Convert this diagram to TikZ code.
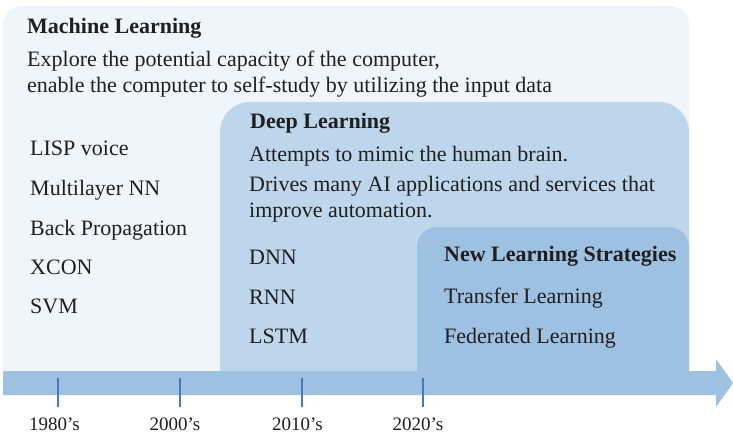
\documentclass[tikz,border=0pt]{standalone}
\usepackage{fontspec}
\setmainfont{Liberation Serif}
\begin{document}
\begin{tikzpicture}[x=1pt,y=-1pt,
  txt/.style={anchor=base west,inner sep=0pt,font=\fontsize{22}{26}\selectfont,text=black!88},
  ttl/.style={txt,font=\fontsize{22}{26}\selectfont\bfseries},
  yr/.style={anchor=base,inner sep=0pt,font=\fontsize{19}{22}\selectfont,text=black!88},
  tick/.style={draw=tickblue,line width=1.6pt}]
\definecolor{mlfill}{HTML}{F0F5FA}
\definecolor{dlfill}{HTML}{BDD6EC}
\definecolor{nlfill}{HTML}{9EC1E2}
\definecolor{tickblue}{HTML}{4678BC}
\useasboundingbox (0,0) rectangle (733,434);

% nested era panels
\fill[mlfill] (3,385) [rounded corners=18pt] -- (3,6) -- (689,6) [sharp corners] -- (689,385) -- cycle;
\fill[dlfill] (220,385) [rounded corners=30pt] -- (220,102) -- (689,102) [sharp corners] -- (689,385) -- cycle;
\fill[nlfill] (417,385) [rounded corners=20pt] -- (417,227) -- (689,227) [sharp corners] -- (689,385) -- cycle;

% time axis
\fill[nlfill] (3,371) -- (716,371) -- (716,359) -- (733,383) -- (716,407) -- (716,395) -- (3,395) -- cycle;
\foreach \x/\lx/\lab [count=\i] in {58/54.5/1980’s, 180/175/2000’s, 302/297.5/2010’s, 423/418/2020’s}{
  \coordinate (t\i a) at (\x,378);
  \coordinate (t\i b) at (\x,407);
  \draw[tick] (t\i a) -- (t\i b);
  \node[yr] (y\i) at (\lx,430) {\lab};
}

% Machine Learning
\node[ttl] (mlT) at (27,33) {Machine Learning};
\node[txt] (ml1) at (27,66) {Explore the potential capacity of the computer,};
\node[txt] (ml2) at (27,92) {enable the computer to self-study by utilizing the input data};
\node[txt] (mlA) at (30,155) {LISP voice};
\node[txt] (mlB) at (30,195) {Multilayer NN};
\node[txt] (mlC) at (30,235) {Back Propagation};
\node[txt] (mlD) at (30,274) {XCON};
\node[txt] (mlE) at (30,313) {SVM};

% Deep Learning
\node[ttl] (dlT) at (250,128) {Deep Learning};
\node[txt] (dl1) at (249,161) {Attempts to mimic the human brain.};
\node[txt] (dl2) at (249,191) {Drives many AI applications and services that};
\node[txt] (dl3) at (249,217) {improve automation.};
\node[txt] (dlA) at (249,264) {DNN};
\node[txt] (dlB) at (249,304) {RNN};
\node[txt] (dlC) at (249,343) {LSTM};

% New Learning Strategies
\node[ttl] (nlT) at (444,261) {New Learning Strategies};
\node[txt] (nlA) at (444,303) {Transfer Learning};
\node[txt] (nlB) at (444,343) {Federated Learning};
\end{tikzpicture}
\end{document}
